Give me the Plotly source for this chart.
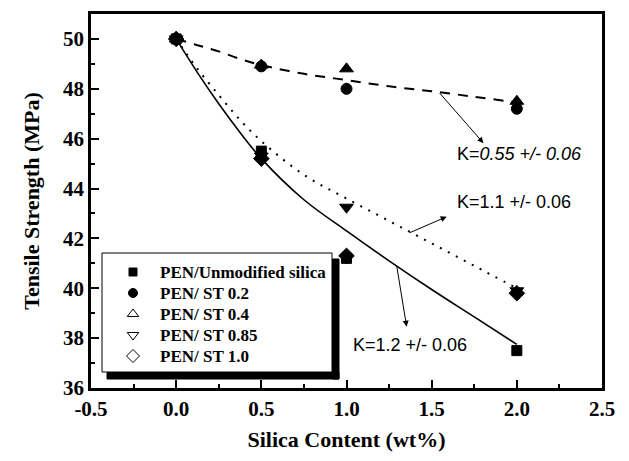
import plotly.graph_objects as go

# ---- data ----
x_pts = [0.0, 0.5, 1.0, 2.0]
ts_unmod = [50.0, 45.5, 41.2, 37.5]
ts_st02 = [50.0, 48.9, 48.0, 47.2]
ts_st04 = [50.0, 48.95, 48.8, 47.5]
ts_st085 = [50.0, 45.3, 43.25, 39.9]
ts_st10 = [50.0, 45.2, 41.3, 39.8]

fit_x = [0.0, 0.125, 0.25, 0.375, 0.5, 0.75, 1.0, 1.25, 1.5, 1.75, 2.0]
fit_k055 = [50.0, 49.75, 49.5, 49.2, 48.95, 48.6, 48.35, 48.1, 47.9, 47.68, 47.45]
fit_k11 = [50.0, 48.8, 47.75, 46.75, 45.9, 44.55, 43.6, 42.7, 41.8, 40.9, 40.0]
fit_k12 = [50.0, 48.65, 47.4, 46.25, 45.2, 43.55, 42.3, 41.1, 39.95, 38.85, 37.75]

series_names = ["PEN/Unmodified silica", "PEN/ ST 0.2", "PEN/ ST 0.4", "PEN/ ST 0.85", "PEN/ ST 1.0"]
series_vals = [ts_unmod, ts_st02, ts_st04, ts_st085, ts_st10]
plot_symbols = ["square", "circle", "triangle-up", "triangle-down", "diamond"]
legend_symbols = ["square", "circle", "triangle-up-open", "triangle-down-open", "diamond-open"]
marker_sizes = [10, 11, 12, 12, 12]
legend_sizes = [8, 9, 10, 10, 10]

x_ticks = [-0.5, 0.0, 0.5, 1.0, 1.5, 2.0, 2.5]
y_ticks = [36, 38, 40, 42, 44, 46, 48, 50]

SERIF = "Liberation Serif, Times New Roman, serif"
SANS = "Liberation Sans, Arial, sans-serif"

# pixel frame of the plot area
L, R, T, B = 91, 602, 14, 388
W, H = 629, 461

fig = go.Figure()

# fit lines
fig.add_trace(go.Scatter(x=fit_x, y=fit_k055, mode="lines", showlegend=False,
                         line=dict(color="black", width=2, dash="10px,8px", shape="spline")))
fig.add_trace(go.Scatter(x=fit_x, y=fit_k11, mode="lines", showlegend=False,
                         line=dict(color="black", width=2, dash="2px,7px", shape="spline")))
fig.add_trace(go.Scatter(x=fit_x, y=fit_k12, mode="lines", showlegend=False,
                         line=dict(color="black", width=1.6, shape="spline")))

# data markers (filled as in the plot)
for name, vals, sym, sz in zip(series_names, series_vals, plot_symbols, marker_sizes):
    fig.add_trace(go.Scatter(x=x_pts, y=vals, mode="markers", name=name, showlegend=False,
                             marker=dict(symbol=sym, size=sz, color="black",
                                         line=dict(color="black", width=1))))

# ---- hand-built legend (box with drop shadow) on a pixel overlay axis ----
leg_rows = [272, 293, 314, 335, 356]
leg_mx, leg_tx = 133, 158
for name, sym, sz, ry in zip(series_names, legend_symbols, legend_sizes, leg_rows):
    fig.add_trace(go.Scatter(x=[leg_mx], y=[ry], xaxis="x2", yaxis="y2", mode="markers",
                             name=name, showlegend=False, hoverinfo="skip",
                             marker=dict(symbol=sym, size=sz, color="black",
                                         line=dict(color="black", width=1))))
    fig.add_annotation(x=leg_tx, y=ry, xref="x2", yref="y2", text=f"<b>{name}</b>",
                       showarrow=False, xanchor="left", yanchor="middle",
                       font=dict(family=SERIF, size=17, color="black"))

# arrows: (head_x, head_y, tail_x, tail_y)
arrows = [
    (1.804, 45.82, 1.539, 47.89),
    (1.588, 42.87, 1.362, 42.20),
    (1.353, 38.46, 1.294, 40.93),
]
for hx, hy, tx, ty in arrows:
    fig.add_annotation(x=hx, y=hy, ax=tx, ay=ty, xref="x", yref="y", axref="x", ayref="y",
                       text="", showarrow=True, arrowhead=2, arrowsize=1.2, arrowwidth=1,
                       arrowcolor="black", standoff=0, startstandoff=0)

labels = [
    (1.637, 45.39, "K=<i>0.55 +/- 0.06</i>"),
    (1.637, 43.47, "K=1.1 +/- 0.06"),
    (1.029, 37.72, "K=1.2 +/- 0.06"),
]
for lx, ly, txt in labels:
    fig.add_annotation(x=lx, y=ly, xref="x", yref="y", text=txt, showarrow=False,
                       xanchor="left", yanchor="middle",
                       font=dict(family=SANS, size=18, color="black"))

axis_common = dict(showline=True, linecolor="black", linewidth=2.5, mirror=True,
                   ticks="inside", tickcolor="black", tickwidth=2, ticklen=8,
                   showgrid=False, zeroline=False,
                   tickfont=dict(family=SERIF, size=21, color="black"))

fig.update_layout(
    xaxis=dict(range=[-0.5, 2.5], tickvals=x_ticks,
               ticktext=[f"<b>{v:.1f}</b>" for v in x_ticks],
               minor=dict(ticks="inside", ticklen=4, tickwidth=2, tickcolor="black", dtick=0.25),
               title=dict(text="<b>Silica Content (wt%)</b>", standoff=12,
                          font=dict(family=SERIF, size=22, color="black")),
               **axis_common),
    yaxis=dict(range=[36, 51], tickvals=y_ticks,
               ticktext=[f"<b>{v}</b>" for v in y_ticks],
               minor=dict(ticks="inside", ticklen=4, tickwidth=2, tickcolor="black", dtick=1),
               title=dict(text="<b>Tensile Strength (MPa)</b>", standoff=18,
                          font=dict(family=SERIF, size=22, color="black")),
               **axis_common),
    xaxis2=dict(overlaying="x", range=[L, R], visible=False, fixedrange=True),
    yaxis2=dict(overlaying="y", range=[B, T], visible=False, fixedrange=True),
    width=W, height=H,
    margin=dict(l=L, r=W - R, t=T, b=H - B, autoexpand=False),
    paper_bgcolor="white", plot_bgcolor="white",
    showlegend=False,
)
# legend box
fig.add_shape(type="rect", xref="x2", yref="y2", x0=102, x1=332, y0=253, y1=372,
              fillcolor="white", line=dict(color="black", width=1), layer="below")
# drop shadow bars (bottom and right)
fig.add_shape(type="rect", xref="x2", yref="y2", x0=107, x1=339, y0=372.5, y1=379,
              fillcolor="black", line=dict(color="black", width=1), layer="above")
fig.add_shape(type="rect", xref="x2", yref="y2", x0=332.5, x1=339, y0=259, y1=379,
              fillcolor="black", line=dict(color="black", width=1), layer="above")

fig.write_html("out.html")
